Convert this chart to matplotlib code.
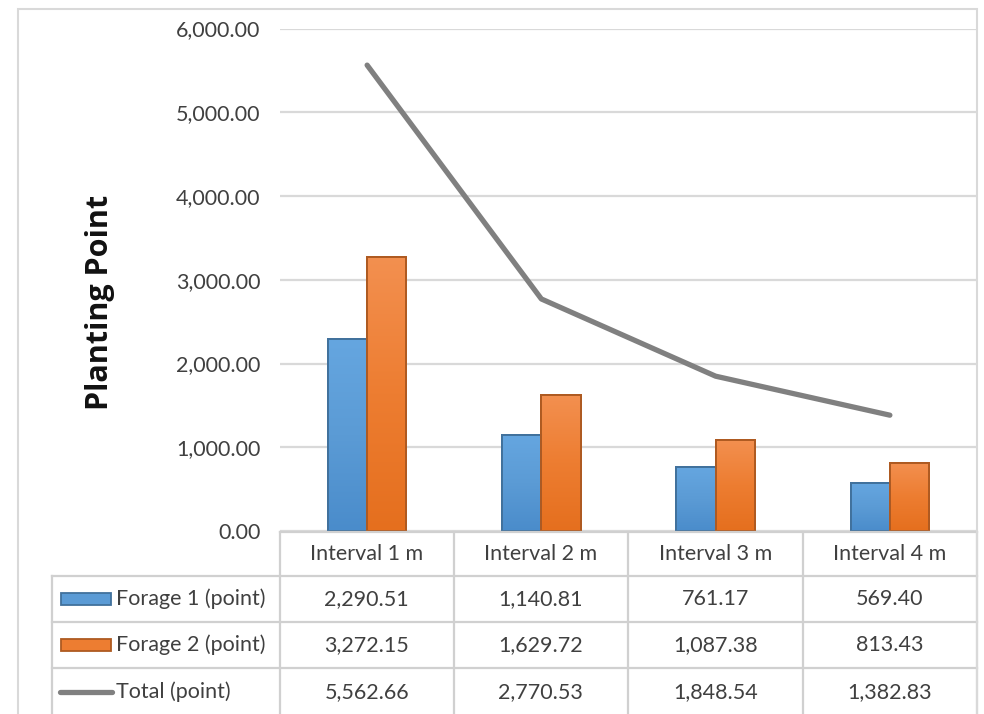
import matplotlib
matplotlib.use("Agg")
import matplotlib.pyplot as plt
import numpy as np
from matplotlib.colors import LinearSegmentedColormap
from matplotlib.patches import Rectangle
from matplotlib.lines import Line2D

# ---- data ----
categories = ["Interval 1 m", "Interval 2 m", "Interval 3 m", "Interval 4 m"]
forage1 = [2290.51, 1140.81, 761.17, 569.40]
forage2 = [3272.15, 1629.72, 1087.38, 813.43]
total = [5562.66, 2770.53, 1848.54, 1382.83]
series_names = ["Forage 1 (point)", "Forage 2 (point)", "Total (point)"]
yticks = [0, 1000, 2000, 3000, 4000, 5000, 6000]

W, H = 984, 714
plt.rcParams["font.family"] = ["Lato", "DejaVu Sans"]
fig = plt.figure(figsize=(W / 100, H / 100), dpi=100)

def fx(px):
    return px / W

def fy(py):
    return 1 - py / H

text_col = "#404040"
grid_col = "#d9d9d9"
blue, blue_edge = "#5b9bd5", "#41719c"
orange, orange_edge = "#ed7d31", "#ae5a21"
gray = "#808080"

# outer chart frame
fig.patches.append(Rectangle((fx(18), fy(720)), fx(977 - 18), fy(9) - fy(720),
                             transform=fig.transFigure, fill=False,
                             edgecolor="#d9d9d9", linewidth=1.5))

# ---- plot area ----
left, right, top, bottom = 280, 977, 28.5, 531
ax = fig.add_axes([fx(left), fy(bottom), fx(right - left), (bottom - top) / H])
x = np.arange(len(categories))
bw = 0.225

def gradient_bars(xs, vals, base, edge, light, dark):
    cmap = LinearSegmentedColormap.from_list("g", [dark, base, light])
    bars = ax.bar(xs, vals, width=bw, color=base, edgecolor=edge, linewidth=1.3, zorder=3)
    for b in bars:
        grad = np.linspace(0, 1, 256).reshape(-1, 1)
        im = ax.imshow(grad, cmap=cmap, aspect="auto", origin="lower",
                       extent=(b.get_x(), b.get_x() + b.get_width(), 0, b.get_height()),
                       zorder=3.5)
        im.set_clip_path(b)
        ax.add_patch(Rectangle((b.get_x(), 0), b.get_width(), b.get_height(), fill=False,
                               edgecolor=edge, linewidth=1.4, zorder=4))

gradient_bars(x - bw / 2, forage1, blue, blue_edge, "#65a6e0", "#4a8ccb")
gradient_bars(x + bw / 2, forage2, orange, orange_edge, "#f39050", "#e56f1e")
ax.plot(x, total, color=gray, linewidth=3.8, zorder=5, solid_capstyle="round")

ax.set_xlim(-0.5, 3.5)
ax.set_ylim(0, 6000)
ax.set_yticks(yticks)
ax.set_yticklabels([f"{v:,.2f}" for v in yticks], fontsize=15.5, color=text_col)
ax.tick_params(axis="y", length=0, pad=14)
ax.set_xticks([])
ax.yaxis.grid(True, color=grid_col, linewidth=1.6, zorder=0)
ax.set_axisbelow(True)
for s in ax.spines.values():
    s.set_visible(False)

fig.text(fx(100), fy(302), "Planting Point", rotation=90, ha="center", va="center",
         fontsize=22, fontweight="bold", color="#111111", family=["Open Sans", "DejaVu Sans"])

# ---- data table ----
tax = fig.add_axes([0, 0, 1, 1], facecolor="none")
tax.set_xlim(0, W)
tax.set_ylim(H, 0)
tax.axis("off")

line_col = "#d0d0d0"
lw = 1.6
col_edges = [280, 453.5, 628, 803, 977]
row_edges = [532, 576, 622, 668, 716]

# horizontal lines
tax.plot([280, 977], [row_edges[0]] * 2, color=line_col, lw=lw)
for yy in row_edges[1:4]:
    tax.plot([52, 977], [yy, yy], color=line_col, lw=lw)
# vertical lines
tax.plot([52, 52], [row_edges[1], 716], color=line_col, lw=lw)
for xx in col_edges:
    tax.plot([xx, xx], [row_edges[0], 716], color=line_col, lw=lw)

fs = 15.5
for i, cat in enumerate(categories):
    cx = (col_edges[i] + col_edges[i + 1]) / 2
    tax.text(cx, (row_edges[0] + row_edges[1]) / 2, cat, ha="center", va="center",
             fontsize=fs, color=text_col)

rows = [forage1, forage2, total]
for r, vals in enumerate(rows):
    cy = (row_edges[r + 1] + row_edges[r + 2]) / 2
    for i, v in enumerate(vals):
        cx = (col_edges[i] + col_edges[i + 1]) / 2
        tax.text(cx, cy, f"{v:,.2f}", ha="center", va="center", fontsize=fs, color=text_col)
    tax.text(116, cy, series_names[r], ha="left", va="center", fontsize=fs, color=text_col)

# legend keys
cy1 = (row_edges[1] + row_edges[2]) / 2
cy2 = (row_edges[2] + row_edges[3]) / 2
cy3 = (row_edges[3] + row_edges[4]) / 2
tax.add_patch(Rectangle((61, cy1 - 6), 50, 12, facecolor=blue, edgecolor=blue_edge, lw=1.3))
tax.add_patch(Rectangle((61, cy2 - 6), 50, 12, facecolor=orange, edgecolor=orange_edge, lw=1.3))
tax.add_line(Line2D([60, 112], [cy3, cy3], color=gray, lw=3.8, solid_capstyle="round"))

fig.savefig("out.png", dpi=100, facecolor="white")
